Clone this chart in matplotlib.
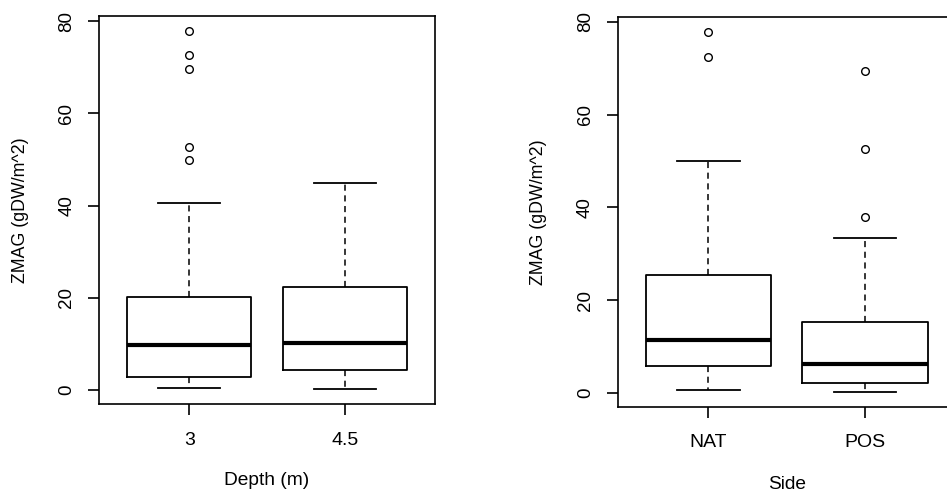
import matplotlib
matplotlib.use('Agg')
import matplotlib.pyplot as plt

plt.rcParams['font.family'] = ['Liberation Sans', 'DejaVu Sans']

# panel 1: depth
depth_labels = ['3', '4.5']
depth_whislo = [0.5, 0.2]
depth_q1 = [2.8, 4.3]
depth_med = [9.7, 10.2]
depth_q3 = [20.2, 22.3]
depth_whishi = [40.6, 45.0]
depth_fliers = [[77.9, 72.6, 69.6, 52.8, 49.8], []]

# panel 2: side
side_labels = ['NAT', 'POS']
side_whislo = [0.5, 0.2]
side_q1 = [5.8, 2.2]
side_med = [11.4, 6.3]
side_q3 = [25.4, 15.2]
side_whishi = [49.9, 33.3]
side_fliers = [[77.8, 72.4], [69.5, 52.7, 37.9]]

yticks = [0, 20, 40, 60, 80]


def make_stats(labels, lo, q1, med, q3, hi, fl):
    stats = []
    for i in range(len(labels)):
        stats.append(dict(label=labels[i], whislo=lo[i], q1=q1[i], med=med[i],
                          q3=q3[i], whishi=hi[i], fliers=fl[i]))
    return stats


def draw_panel(ax, stats, xlabel, xl_y):
    ax.bxp(stats, positions=[1, 2], widths=0.8,
           boxprops=dict(color='black', linewidth=1.3),
           medianprops=dict(color='black', linewidth=3),
           whiskerprops=dict(color='black', linewidth=1.1, linestyle=(0, (4, 3))),
           capprops=dict(color='black', linewidth=1.3),
           capwidths=0.4,
           flierprops=dict(marker='o', markersize=5.5, markerfacecolor='none',
                           markeredgecolor='black', markeredgewidth=1.0))
    ax.set_xlim(0.42, 2.58)
    ax.set_ylim(-3.0, 81.1)
    ax.set_yticks(yticks)
    ax.set_yticklabels([str(t) for t in yticks], rotation=90, va='center')
    for sp in ax.spines.values():
        sp.set_linewidth(1.2)
    ax.tick_params(axis='both', length=8, width=1.2)
    ax.tick_params(axis='y', pad=9, labelsize=13.5)
    ax.tick_params(axis='x', pad=12, labelsize=14)
    ax.set_ylabel('ZMAG (gDW/m^2)', fontsize=12.8, va='center')
    ax.yaxis.set_label_coords(-0.235, 0.5)
    ax.set_xlabel(xlabel, fontsize=13.8, va='center')
    ax.xaxis.set_label_coords(0.5, xl_y)


fig = plt.figure(figsize=(9.47, 4.96), dpi=100)
ax1 = fig.add_axes([0.1045, 0.1855, 0.3548, 0.782])
ax2 = fig.add_axes([0.6523, 0.180, 0.3569, 0.786])

draw_panel(ax1, make_stats(depth_labels, depth_whislo, depth_q1, depth_med,
                           depth_q3, depth_whishi, depth_fliers), 'Depth (m)', -0.198)
draw_panel(ax2, make_stats(side_labels, side_whislo, side_q1, side_med,
                           side_q3, side_whishi, side_fliers), 'Side', -0.2)

fig.savefig('out.png', dpi=100)
